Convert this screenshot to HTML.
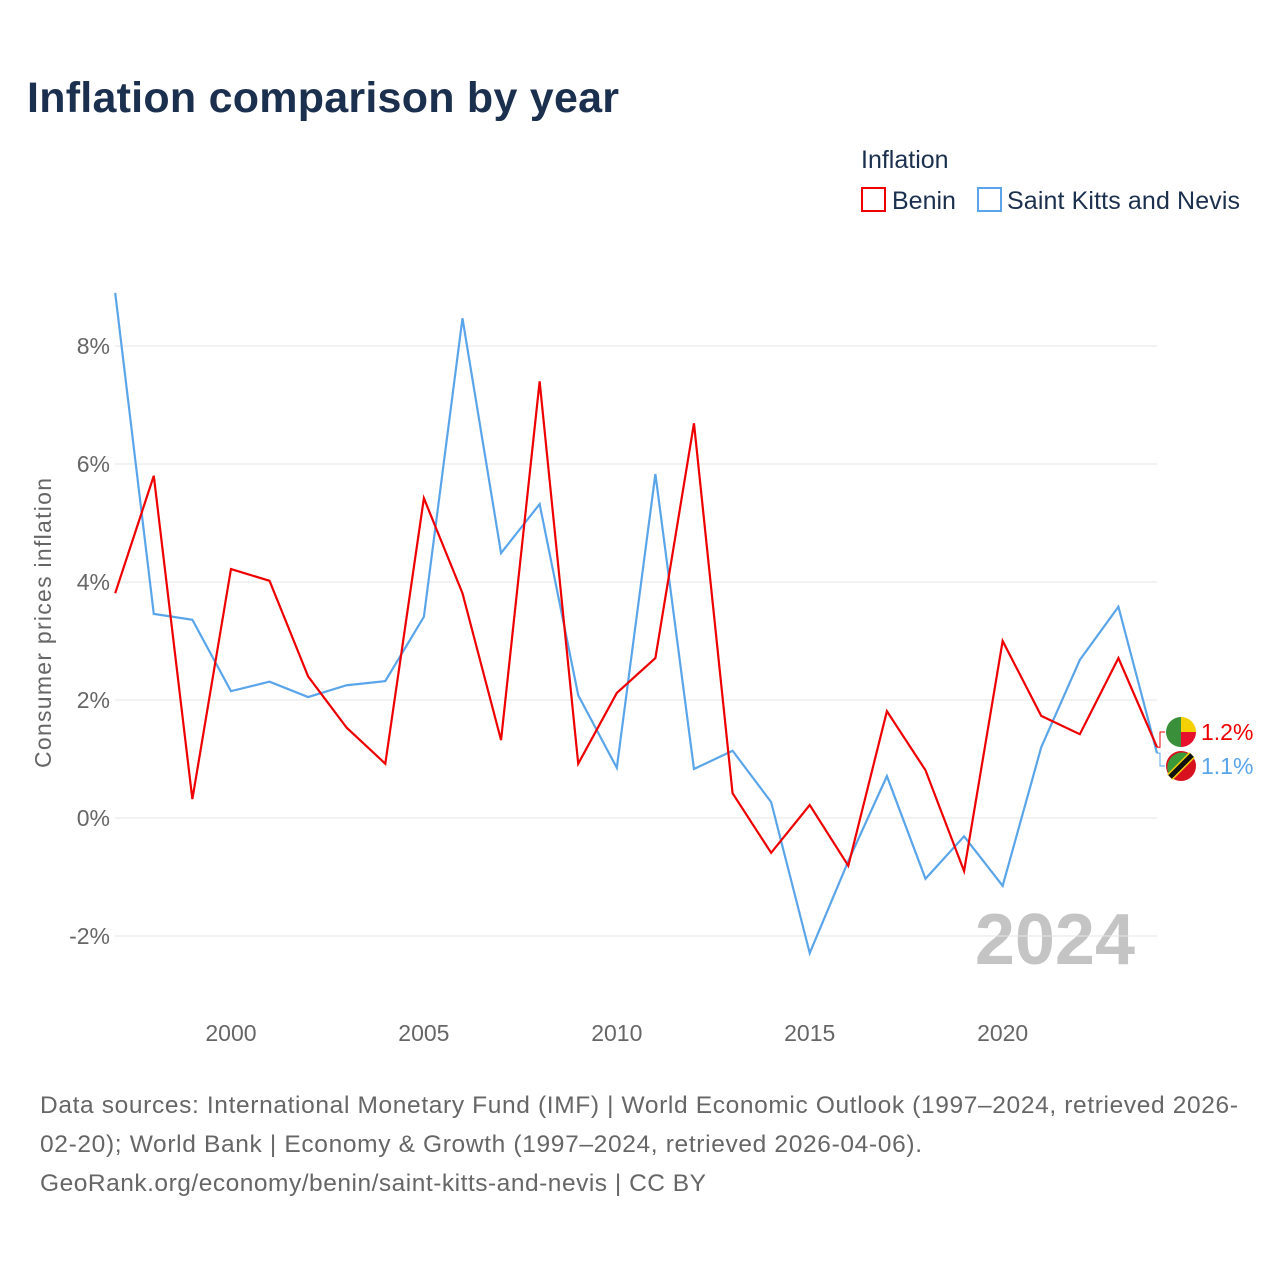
<!DOCTYPE html>
<html><head><meta charset="utf-8"><style>
body{margin:0;background:#fff;font-family:"Liberation Sans",sans-serif;}
#wrap{position:relative;width:1280px;height:1280px;overflow:hidden;}
</style></head><body>
<div id="wrap">
<svg id="svg" width="1280" height="1280">
<text x="27" y="112" font-size="43" font-weight="bold" fill="#1b2f4e" textLength="592">Inflation comparison by year</text>
<text x="861" y="168" font-size="25" fill="#1b2f4e">Inflation</text>
<g><rect x="862" y="188" width="23" height="23" fill="none" stroke="#ee0000" stroke-width="2"/><text x="892" y="209" font-size="25" fill="#1b2f4e">Benin</text></g>
<g><rect x="978" y="188" width="23" height="23" fill="none" stroke="#5aa5ea" stroke-width="2"/><text x="1007" y="209" font-size="25" fill="#1b2f4e" textLength="233">Saint Kitts and Nevis</text></g>
<text transform="translate(51,623) rotate(-90)" text-anchor="middle" font-size="23" fill="#666" textLength="290">Consumer prices inflation</text>
<text x="1135" y="964" text-anchor="end" font-size="72" font-weight="bold" fill="#c4c4c4">2024</text>
<g id="grid"></g><g id="lines"></g><g id="end"></g>
<g font-size="24.5" fill="#666">
<text x="40" y="1113" textLength="1198">Data sources: International Monetary Fund (IMF) | World Economic Outlook (1997–2024, retrieved 2026-</text>
<text x="40" y="1152" textLength="882">02-20); World Bank | Economy &amp; Growth (1997–2024, retrieved 2026-04-06).</text>
<text x="40" y="1191" textLength="666">GeoRank.org/economy/benin/saint-kitts-and-nevis | CC BY</text>
</g>
</svg></div>
<script>
const years=[1997,1998,1999,2000,2001,2002,2003,2004,2005,2006,2007,2008,2009,2010,2011,2012,2013,2014,2015,2016,2017,2018,2019,2020,2021,2022,2023,2024];
const benin=[3.81,5.8,0.32,4.22,4.02,2.4,1.53,0.92,5.42,3.81,1.32,7.4,0.92,2.12,2.71,6.69,0.42,-0.59,0.22,-0.81,1.81,0.81,-0.9,3.0,1.73,1.42,2.71,1.2];
const skn=[8.9,3.46,3.36,2.15,2.31,2.05,2.25,2.32,3.41,8.47,4.49,5.32,2.08,0.85,5.83,0.83,1.14,0.27,-2.29,-0.73,0.71,-1.03,-0.31,-1.15,1.2,2.68,3.58,1.1];
const yTicks=[-2,0,2,4,6,8];
const xTicks=[2000,2005,2010,2015,2020];
const X=v=>115.2+(v-1997)*(1157-115.2)/27;
const Y=v=>818-v*59;
const NS='http://www.w3.org/2000/svg';
function mk(t,a,p){const e=document.createElementNS(NS,t);for(const k in a)e.setAttribute(k,a[k]);p.appendChild(e);return e;}
const grid=document.getElementById('grid');
yTicks.forEach(v=>{
 const l=mk('line',{x1:115,x2:1157,y1:Y(v),y2:Y(v),stroke:'#e6e6e6','stroke-width':1},grid);
 
 
 const t=mk('text',{x:110,y:Y(v)+8,'text-anchor':'end','font-size':23,fill:'#666'},grid);
 t.textContent=v+'%';
 
 
});
xTicks.forEach(v=>{
 const t=mk('text',{x:X(v),y:1041,'text-anchor':'middle','font-size':23,fill:'#666'},grid);
 t.textContent=v;
 
 
});
const lines=document.getElementById('lines');
function series(vals,col,name){
 const p=mk('polyline',{points:vals.map((v,i)=>X(years[i])+','+Y(v)).join(' '),fill:'none',stroke:col,'stroke-width':2.2,'stroke-linejoin':'miter'},lines);
 
 
}
series(skn,'#5aa5ea','line-saint-kitts');
series(benin,'#ee0000','line-benin');
const end=document.getElementById('end');
const n=years.length-1;
function label(v,col,ly,name,flag){
 const yv=Y(v);
 mk('polyline',{points:`${X(years[n])},${yv} 1160,${yv} 1160,${ly} 1165,${ly}`,fill:'none',stroke:col,'stroke-width':1},end);
 const g=mk('g',{},end);
 
 
 if(flag==='bj'){
  mk('path',{d:`M1181 ${ly-15} A15 15 0 0 0 1181 ${ly+15} Z`,fill:'#3a8f3a'},g);
  mk('path',{d:`M1181 ${ly-15} A15 15 0 0 1 1196 ${ly} L1181 ${ly} Z`,fill:'#f5d000'},g);
  mk('path',{d:`M1181 ${ly} L1196 ${ly} A15 15 0 0 1 1181 ${ly+15} Z`,fill:'#e8112d'},g);
 }else{
  mk('circle',{cx:1181,cy:ly,r:15,fill:'#d8111f'},g);
  mk('path',{d:`M1170 ${ly+10} A15 15 0 0 1 1192 ${ly-10} Z`,fill:'#3a9a3a'},g);
  mk('line',{x1:1170,y1:ly+11,x2:1192,y2:ly-11,stroke:'#f5d000','stroke-width':8},g);
  mk('line',{x1:1170,y1:ly+11,x2:1192,y2:ly-11,stroke:'#111','stroke-width':5},g);
 }
 const t=mk('text',{x:1201,y:ly+8,'font-size':23,fill:col},g);
 t.textContent=v.toFixed(1)+'%';
}
label(benin[n],'#ee0000',732,'end-label-benin','bj');
label(skn[n],'#5aa5ea',766,'end-label-saint-kitts','kn');
</script>
</body></html>
